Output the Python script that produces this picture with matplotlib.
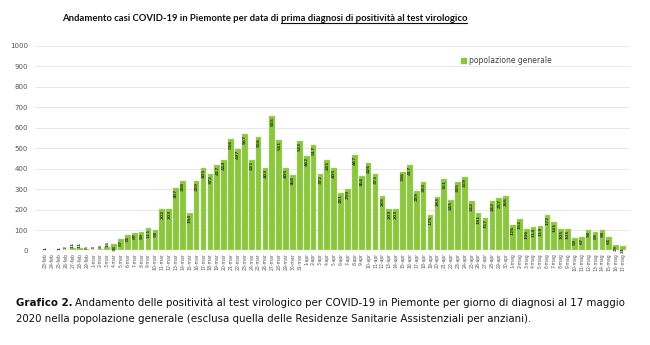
import pandas as pd
import matplotlib.pyplot as plt
from matplotlib.patches import Patch

# Daily new positive cases, general population (23 Feb - 17 May 2020)
casi = [1, 0, 1, 2, 11, 11, 5, 3, 8, 16,
        33, 57, 74, 87, 89, 111, 98, 202, 203, 307,
        338, 184, 339, 405, 372, 417, 444, 546, 497, 567,
        441, 556, 403, 655, 541, 405, 368, 533, 462, 517,
        372, 441, 405, 281, 299, 467, 364, 426, 373, 265,
        203, 203, 386, 417, 289, 333, 175, 263, 351, 245,
        335, 359, 242, 181, 157, 242, 257, 266, 126, 152,
        106, 114, 119, 172, 141, 105, 105, 59, 67, 98,
        88, 98, 64, 29, 21]

mesi = {2: "feb", 3: "mar", 4: "apr", 5: "mag"}
giorni = pd.date_range("2020-02-23", "2020-05-17")
etichette = [f"{d.day}-{mesi[d.month]}" for d in giorni]

verde = "#8cc63f"

fig = plt.figure(figsize=(6.5, 3.45), dpi=100)
ax = fig.add_axes([0.054, 0.274, 0.915, 0.593])

x = range(len(casi))
ax.bar(x, casi, width=0.82, color=verde, edgecolor="#b6df80", linewidth=0.3, zorder=2)

# value labels inside the top of each bar
for i, v in enumerate(casi):
    if v >= 20:
        ax.text(i, v - 4, str(v), rotation=90, ha="center", va="top",
                fontsize=3.2, color="#2b3a12", fontweight="bold", zorder=3)
    elif v > 0:
        ax.text(i, v + 3, str(v), rotation=90, ha="center", va="bottom",
                fontsize=3.2, color="#2b3a12", fontweight="bold", zorder=3)

ax.set_ylim(0, 1000)
ax.set_xlim(-1.5, 85.0)
ax.set_yticks(range(0, 1001, 100))
ax.tick_params(axis="y", labelsize=5, colors="#555555", length=0, pad=5)
ax.set_xticks(list(x))
ax.set_xticklabels(etichette, rotation=90, fontsize=3.3, color="#555555")
ax.tick_params(axis="x", length=0, pad=2)
ax.grid(axis="y", color="#e4e4e4", linewidth=0.6, zorder=0)
for s in ax.spines.values():
    s.set_visible(False)

ax.legend(handles=[Patch(color=verde)], labels=["popolazione generale"],
          loc="upper left", bbox_to_anchor=(0.705, 0.985), frameon=False,
          fontsize=5.5, handlelength=0.6, handleheight=0.6, handletextpad=0.4,
          labelcolor="#444444")

# title with underlined second half
fig.canvas.draw()
r = fig.canvas.get_renderer()
ty = 1 - 21 / 345
t1 = fig.text(62 / 650, ty, "Andamento casi COVID-19 in Piemonte per data di ",
              fontsize=6.8, fontweight="bold", color="#111111", family="Lato")
bb = t1.get_window_extent(r).transformed(fig.transFigure.inverted())
t2 = fig.text(bb.x1, ty, "prima diagnosi di positività al test virologico",
              fontsize=6.8, fontweight="bold", color="#111111", family="Lato")
bb2 = t2.get_window_extent(r).transformed(fig.transFigure.inverted())
fig.add_artist(plt.Line2D([bb2.x0, bb2.x1], [ty - 0.006, ty - 0.006],
                          transform=fig.transFigure, color="#111111", linewidth=0.8))

# caption below the chart
cy = 1 - 306 / 345
c1 = fig.text(16 / 650, cy, "Grafico 2.", fontsize=7.4,
              fontweight="bold", color="#111111")
bc = c1.get_window_extent(r).transformed(fig.transFigure.inverted())
fig.text(bc.x1 + 0.004, cy,
         "Andamento delle positività al test virologico per COVID-19 in Piemonte per giorno di diagnosi al 17 maggio",
         fontsize=7.4, color="#111111")
fig.text(16 / 650, 1 - 322 / 345,
         "2020 nella popolazione generale (esclusa quella delle Residenze Sanitarie Assistenziali per anziani).",
         fontsize=7.4, color="#111111")

fig.savefig("out.png", dpi=100)
